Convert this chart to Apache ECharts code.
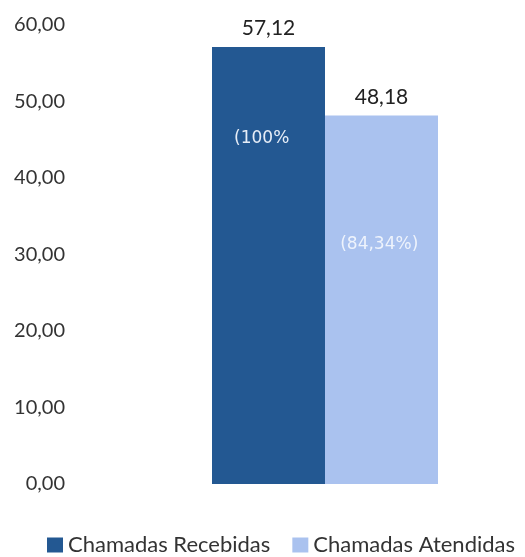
<!DOCTYPE html>
<html>
<head>
<meta charset="utf-8">
<script src="https://cdn.jsdelivr.net/npm/echarts@6/dist/echarts.min.js"></script>
<style>html,body{margin:0;padding:0;background:#fff}#c{width:525px;height:557px}</style>
</head>
<body>
<div id="c"></div>
<script>
const categories = ['Chamadas'];
const seriesNames = ['Chamadas Recebidas', 'Chamadas Atendidas'];
const recebidas = [57.12];
const atendidas = [48.18];
const percentLabels = ['(100%', '(84,34%)'];
const yTicks = [0, 10, 20, 30, 40, 50, 60];

const fmt = v => v.toFixed(2).replace('.', ',');
const chart = echarts.init(document.getElementById('c'));
function mk(name, vals, color, pct, pctColor, pctPos) {
  return {
    name, type: 'bar', data: vals.map(v => ({value: v, label: {position: pctPos}})),
    barWidth: 113, barGap: '0%',
    itemStyle: {color},
    label: {show: true, formatter: () => pct, color: pctColor, fontSize: 17, fontFamily: 'DejaVu Sans', align: 'center', verticalAlign: 'middle'},
    markPoint: {
      symbol: 'circle', symbolSize: 0,
      data: [{type: 'max'}],
      label: {show: true, position: 'top', distance: 8, formatter: p => fmt(p.value), color: '#222', fontSize: 21, fontFamily: 'Lato'}
    }
  };
}
chart.setOption({
  animation: false,
  grid: {left: 125, right: 0, top: 25, bottom: 73},
  legend: {
    bottom: -4, left: 42, width: 560, padding: [5, 0, 5, 5], itemWidth: 16, itemHeight: 15, itemGap: 22,
    icon: 'rect',
    textStyle: {fontSize: 22, color: '#333', fontFamily: 'Lato'},
    data: seriesNames
  },
  xAxis: {type: 'category', data: categories, axisLine: {show: false}, axisTick: {show: false}, axisLabel: {show: false}},
  yAxis: {
    type: 'value', min: yTicks[0], max: yTicks[yTicks.length - 1], interval: 10,
    splitLine: {show: false}, axisLine: {show: false}, axisTick: {show: false},
    axisLabel: {margin: 60, formatter: v => fmt(v), fontSize: 20, color: '#333', fontFamily: 'Lato'}
  },
  series: [
    mk(seriesNames[0], recebidas, '#235892', percentLabels[0], '#e6edf7', ['44%', '21%']),
    mk(seriesNames[1], atendidas, '#aac2ef', percentLabels[1], '#eef3fc', ['48%', '35%'])
  ]
});
</script>
</body>
</html>
